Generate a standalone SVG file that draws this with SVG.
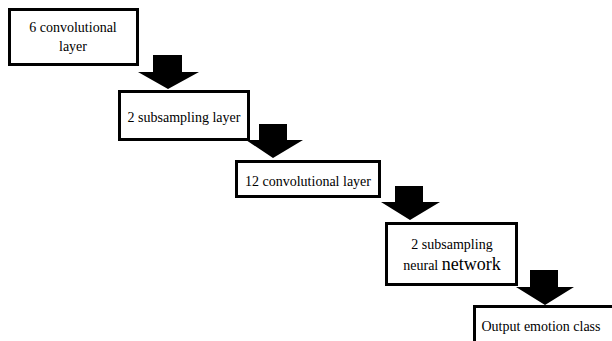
<svg xmlns="http://www.w3.org/2000/svg" width="612" height="341" viewBox="0 0 612 341">
<style>
.box{fill:#fff;stroke:#000;stroke-width:3}
.arr{fill:#000}
text{font-family:"Liberation Serif","Times New Roman",serif;font-size:14px;fill:#000;text-anchor:middle}
</style>
<rect width="612" height="341" fill="#fff"/>
<g id="connectors">
<polygon class="arr" points="153,55 182,55 182,72 199,72 168,89 138,72 153,72"/>
<polygon class="arr" points="259,124 287,124 287,140 303,140 273,158 246,140 259,140"/>
<polygon class="arr" points="395,186 423,186 423,202 440,202 410,220 381,202 395,202"/>
<polygon class="arr" points="530,270 558,270 558,287 574,287 545,305 516,287 530,287"/>
</g>
<g id="n1">
<rect class="box" x="9.5" y="9.5" width="128" height="55"/>
<text x="73" y="32">6 convolutional</text>
<text x="73" y="51">layer</text>
</g>
<g id="n2">
<rect class="box" x="119.5" y="91.5" width="129" height="48"/>
<text x="184" y="122">2 subsampling layer</text>
</g>
<g id="n3">
<rect class="box" x="236.5" y="161.5" width="143" height="35"/>
<text x="308" y="186">12 convolutional layer</text>
</g>
<g id="n4">
<rect class="box" x="386.5" y="223.5" width="130" height="61"/>
<text x="452" y="249">2 subsampling</text>
<text x="452" y="270">neural <tspan font-size="18">network</tspan></text>
</g>
<g id="n5">
<rect class="box" x="474.5" y="306.5" width="145" height="45"/>
<text x="541" y="331">Output emotion class</text>
</g>
</svg>
